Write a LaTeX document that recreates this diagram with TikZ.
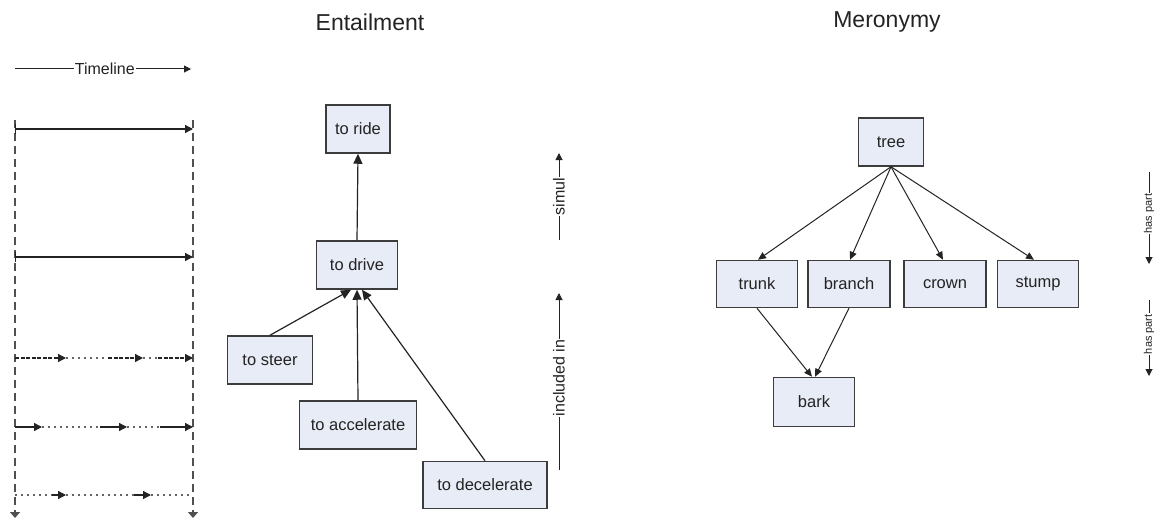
\documentclass[tikz,border=0pt]{standalone}
\usepackage{fontspec}
\setmainfont{Liberation Sans}
\usetikzlibrary{arrows.meta}
\definecolor{boxfill}{RGB}{232,236,246}
\definecolor{boxline}{RGB}{60,60,60}
\definecolor{ink}{RGB}{35,35,35}
\definecolor{vline}{RGB}{80,80,80}
\begin{document}
\begin{tikzpicture}[x=1pt,y=-1pt,
  box/.style={draw=boxline, line width=1.5pt, fill=boxfill, minimum height=48pt, inner sep=0pt, font=\fontsize{16.5}{18}\selectfont, text=ink},
  entarrow/.style={draw=ink, line width=1.2pt, -{Triangle[length=10pt,width=9pt]}},
  merarrow/.style={draw=ink, line width=1pt, -{Triangle[length=8pt,width=7pt]}},
  title/.style={font=\fontsize{23}{26}\selectfont, text=ink},
  lbl/.style={font=\fontsize{16}{18}\selectfont, text=ink, fill=white, inner sep=1pt},
  smalllbl/.style={font=\fontsize{11}{13}\selectfont, text=ink, fill=white, inner sep=1pt},
  labarrow/.style={draw=ink, line width=1pt, -{Triangle[length=7pt,width=7pt]}},
  tl/.style={draw=ink, line width=1.3pt},
  tlhead/.style={-{Triangle[length=8pt,width=8pt]}},
  dashseg/.style={tl, dash pattern=on 4pt off 1.5pt},
  dotseg/.style={draw=ink!70, line width=1.2pt, dash pattern=on 1.5pt off 4.5pt},
  vdash/.style={draw=vline, line width=1.4pt, dash pattern=on 8pt off 5pt}
]
\useasboundingbox (0,0) rectangle (1162,519);

% Titles
\node[title] (enttitle) at (370,22) {Entailment};
\node[title] (mertitle) at (887,22) {Meronymy};

% Timeline header
\coordinate (tlA) at (15,69);
\coordinate (tlB) at (191,69);
\draw[labarrow] (tlA) -- (tlB) node[lbl, pos=0.51] (tltext) {Timeline};

% Vertical dashed lines
\coordinate (vL1) at (15,120);
\coordinate (vL2) at (15,518);
\coordinate (vR1) at (193,120);
\coordinate (vR2) at (193,518);
\draw[vdash, -{Triangle[length=6pt,width=10pt]}] (vL1) -- (vL2);
\draw[vdash, -{Triangle[length=6pt,width=10pt]}] (vR1) -- (vR2);

% Row 1 and 2
\coordinate (r1a) at (15,129); \coordinate (r1b) at (193,129);
\draw[tl, {Bar[width=10pt]}-{Triangle[length=8pt,width=8pt]}] (r1a) -- (r1b);
\coordinate (r2a) at (15,257); \coordinate (r2b) at (193,257);
\draw[tl, {Bar[width=10pt]}-{Triangle[length=8pt,width=8pt]}] (r2a) -- (r2b);

% Row 3
\coordinate (r3a) at (15,358); \coordinate (r3b) at (66,358);
\coordinate (r3c) at (108,358); \coordinate (r3d) at (143,358);
\coordinate (r3e) at (158,358); \coordinate (r3f) at (193,358);
\draw[dashseg, tlhead] (r3a) -- (r3b);
\draw[dotseg] (r3b) -- (r3c);
\draw[dashseg, tlhead] (r3c) -- (r3d);
\draw[dotseg] (r3d) -- (r3e);
\draw[dashseg, tlhead] (r3e) -- (r3f);

% Row 4
\coordinate (r4a) at (15,427); \coordinate (r4b) at (42,427);
\coordinate (r4c) at (100,427); \coordinate (r4d) at (127,427);
\coordinate (r4e) at (160,427); \coordinate (r4f) at (193,427);
\draw[tl, tlhead] (r4a) -- (r4b);
\draw[dotseg] (r4b) -- (r4c);
\draw[tl, tlhead] (r4c) -- (r4d);
\draw[dotseg] (r4d) -- (r4e);
\draw[tl, tlhead] (r4e) -- (r4f);

% Row 5
\coordinate (r5a) at (15,495); \coordinate (r5b) at (52,495);
\coordinate (r5c) at (66,495); \coordinate (r5d) at (134,495);
\coordinate (r5e) at (151,495); \coordinate (r5f) at (190,495);
\draw[dotseg] (r5a) -- (r5b);
\draw[tl, tlhead] (r5b) -- (r5c);
\draw[dotseg] (r5c) -- (r5d);
\draw[tl, tlhead] (r5d) -- (r5e);
\draw[dotseg] (r5e) -- (r5f);

% Entailment boxes
\node[box, minimum width=64pt] (ride) at (358,129) {to ride};
\node[box, minimum width=81pt] (drive) at (357,265) {to drive};
\node[box, minimum width=85pt] (steer) at (270,360) {to steer};
\node[box, minimum width=117pt] (accel) at (358,425) {to accelerate};
\node[box, minimum width=124pt, minimum height=47pt] (decel) at (485,485) {to decelerate};

\draw[entarrow] (drive.north) -- (ride.south);
\draw[entarrow] (steer.north) -- ([xshift=-6pt]drive.south);
\draw[entarrow] (accel.north) -- (drive.south);
\draw[entarrow] (decel.north) -- ([xshift=5pt]drive.south);

% Entailment side labels
\coordinate (s1) at (559,240); \coordinate (s2) at (559,153);
\draw[labarrow] (s1) -- (s2) node[lbl, midway, rotate=90] (simul) {simul};
\coordinate (i1) at (559,470); \coordinate (i2) at (559,293);
\draw[labarrow] (i1) -- (i2) node[lbl, pos=0.52, rotate=90] (incl) {included in};

% Meronymy boxes
\node[box, minimum width=65pt] (tree) at (891,142) {tree};
\node[box, minimum width=81pt, minimum height=47pt] (trunk) at (757,284) {trunk};
\node[box, minimum width=82pt, minimum height=47pt] (branch) at (849,284) {branch};
\node[box, minimum width=82pt, minimum height=47pt] (crown) at (945,284) {crown};
\node[box, minimum width=81pt, minimum height=47pt] (stump) at (1038,284) {stump};
\node[box, minimum width=81pt, minimum height=49pt] (bark) at (814,402) {bark};

\draw[merarrow] (tree.south) -- ([xshift=1pt]trunk.north);
\draw[merarrow] (tree.south) -- ([xshift=1pt]branch.north);
\draw[merarrow] (tree.south) -- ([xshift=-2pt]crown.north);
\draw[merarrow] (tree.south) -- ([xshift=-4pt]stump.north);
\draw[merarrow] (trunk.south) -- ([xshift=-2pt]bark.north);
\draw[merarrow] (branch.south) -- ([xshift=1pt]bark.north);

% Meronymy side labels
\coordinate (h1) at (1149,172); \coordinate (h2) at (1149,264);
\draw[labarrow] (h1) -- (h2) node[smalllbl, pos=0.45, rotate=90] (hp1) {has part};
\coordinate (h3) at (1149,300); \coordinate (h4) at (1149,376);
\draw[labarrow] (h3) -- (h4) node[smalllbl, pos=0.45, rotate=90] (hp2) {has part};
\end{tikzpicture}
\end{document}
